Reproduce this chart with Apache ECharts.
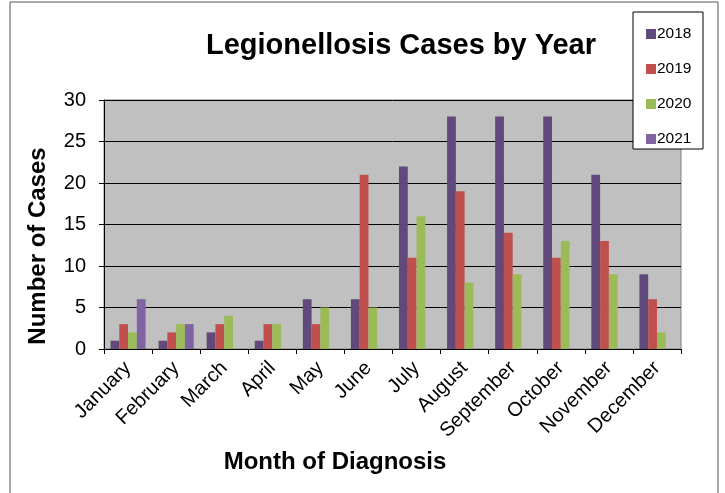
<!DOCTYPE html>
<html>
<head>
<meta charset="utf-8">
<script src="https://cdn.jsdelivr.net/npm/echarts@6/dist/echarts.min.js"></script>
<style>html,body{margin:0;padding:0;background:#fff}#c{width:725px;height:493px}</style>
</head>
<body>
<div id="c"></div>
<script>
var months = ['January','February','March','April','May','June','July','August','September','October','November','December'];
var years = ['2018','2019','2020','2021'];
var cases2018 = [1,1,2,1,6,6,22,28,28,28,21,9];
var cases2019 = [3,2,3,3,3,21,11,19,14,11,13,6];
var cases2020 = [2,3,4,3,5,5,16,8,9,13,9,2];
var cases2021 = [6,3,null,null,null,null,null,null,null,null,null,null];
var yTicks = [0,5,10,15,20,25,30];
var colors = ['#604A7B','#C0504D','#9BBB59','#8064A2'];
var seriesData = [cases2018, cases2019, cases2020, cases2021];

var chart = echarts.init(document.getElementById('c'));
var font = 'Arial, "Liberation Sans", sans-serif';
chart.setOption({
  animation: false,
  textStyle: {fontFamily: font},
  graphic: [
    {type:'rect', shape:{x:10, y:2, width:708, height:520}, style:{fill:'none', stroke:'#555', lineWidth:1}, silent:true, z:-1},
    {type:'rect', shape:{x:633, y:12, width:70, height:137}, style:{fill:'#fff', stroke:'#000', lineWidth:1}, z:5},
    {type:'text', style:{text:'Legionellosis Cases by Year', font:'bold 29px ' + font, fill:'#000', x:401, y:46, align:'center', verticalAlign:'middle'}},
    {type:'text', style:{text:'Number of Cases', font:'bold 24px ' + font, fill:'#000', x:0, y:0, align:'center', verticalAlign:'middle'}, x:38, y:246, rotation:Math.PI/2},
    {type:'text', style:{text:'Month of Diagnosis', font:'bold 24px ' + font, fill:'#000', x:335, y:462, align:'center', verticalAlign:'middle'}}
  ],
  legend: {
    orient: 'vertical',
    left: 641, top: 21,
    itemWidth: 10, itemHeight: 10, itemGap: 19,
    icon: 'rect',
    z: 6,
    textStyle: {fontSize: 15.5, lineHeight: 15, color: '#000', fontFamily: font, padding:[0,0,0,-4]},
    data: years
  },
  grid: {
    left: 104, right: 44, top: 100, bottom: 144,
    show: true, backgroundColor: '#C0C0C0', borderColor: '#808080', borderWidth: 1
  },
  xAxis: {
    type: 'category',
    data: months,
    axisLine: {lineStyle: {color: '#000', width: 1}},
    axisTick: {show: true, length: 5, lineStyle: {color: '#000'}},
    axisLabel: {rotate: 45, fontSize: 20, color: '#000', margin: 16, interval: 0, fontFamily: font},
    splitLine: {show: false}
  },
  yAxis: {
    type: 'value',
    min: yTicks[0], max: yTicks[yTicks.length-1], interval: 5,
    axisLine: {show: true, lineStyle: {color: '#000', width: 1}},
    axisTick: {show: true, length: 5, lineStyle: {color: '#000'}},
    axisLabel: {fontSize: 20, color: '#000', margin: 18, fontFamily: font},
    splitLine: {show: true, lineStyle: {color: '#000', width: 1}}
  },
  series: years.map(function(y, i){
    return {
      name: y, type: 'bar', data: seriesData[i],
      barGap: '0%', barCategoryGap: '27%',
      itemStyle: {color: colors[i]}
    };
  })
});
</script>
</body>
</html>
